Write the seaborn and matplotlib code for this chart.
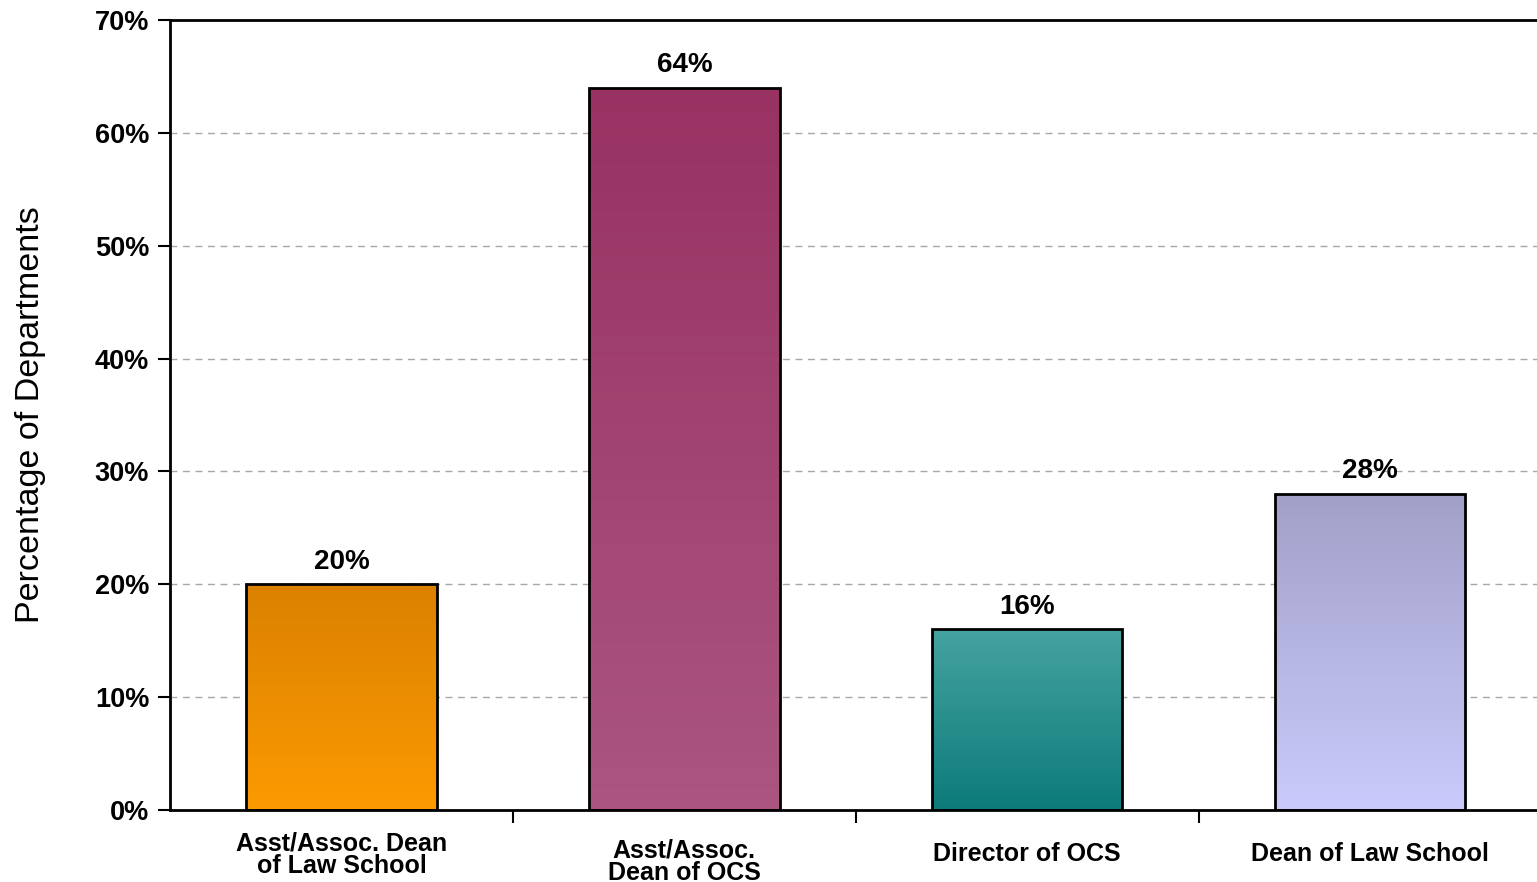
import numpy as np
import pandas as pd
import matplotlib
matplotlib.use("Agg")
import matplotlib.pyplot as plt
import matplotlib.transforms as mtransforms
from matplotlib.colors import LinearSegmentedColormap
import seaborn as sns

categories = ["Asst/Assoc. Dean\nof Law School", "Asst/Assoc.\nDean of OCS",
              "Director of OCS", "Dean of Law School"]
values = [20, 64, 16, 28]
value_labels = ["20%", "64%", "16%", "28%"]
y_ticks = [0, 10, 20, 30, 40, 50, 60, 70]
y_tick_labels = ["0%", "10%", "20%", "30%", "40%", "50%", "60%", "70%"]
y_label = "Percentage of Departments"
# gradient colours (top, bottom)
top_colors = ["#DB8100", "#983262", "#45A3A0", "#A2A0C8"]
bottom_colors = ["#FC9A00", "#AB5580", "#0C7B7A", "#CACBFC"]

sns.set_theme(style="white")
plt.rcParams['font.family'] = ['Liberation Sans', 'DejaVu Sans']
plt.rcParams['text.color'] = 'black'
plt.rcParams['axes.labelcolor'] = 'black'
plt.rcParams['xtick.color'] = 'black'
plt.rcParams['ytick.color'] = 'black'

fig = plt.figure(figsize=(15.37, 8.82), dpi=100)
ax = fig.add_axes([0.1106, 0.0816, 0.8924, 0.8957])

df = pd.DataFrame({"cat": categories, "val": values})
sns.barplot(data=df, x="cat", y="val", ax=ax, width=0.555,
            palette=top_colors, hue="cat", legend=False,
            edgecolor="black", linewidth=2, saturation=1)

ax.set_ylim(0, 70)
ax.set_xlim(-0.5, 3.5)

for i, p in enumerate(ax.patches):
    x0, y0 = p.get_x(), p.get_y()
    w, h = p.get_width(), p.get_height()
    cmap = LinearSegmentedColormap.from_list("g", [bottom_colors[i], top_colors[i]])
    grad = np.linspace(0, 1, 256).reshape(-1, 1)
    im = ax.imshow(grad, cmap=cmap, origin="lower", aspect="auto",
                   extent=[x0, x0 + w, y0, y0 + h], zorder=2)
    im.set_clip_path(p)
    p.set_facecolor("none")
    p.set_zorder(3)
    ax.text(x0 + w / 2, y0 + h + 0.85, value_labels[i], ha="center", va="bottom",
            fontsize=20, fontweight="bold", color="black")

ax.set_xlim(-0.5, 3.5)
ax.set_ylim(0, 70)

ax.set_yticks(y_ticks)
ax.set_yticklabels(y_tick_labels, fontsize=19.5, fontweight="bold", color="black")
ax.tick_params(axis="y", direction="out", length=9, width=1.5, color="black", left=True, pad=6)
ax.set_xticks(range(len(categories)))
ax.set_xticklabels(categories, fontsize=18, fontweight="bold", linespacing=0.9,
                   color="black", va="center")
ax.tick_params(axis="x", which="major", length=0, pad=32)
ax.set_xticks([0.5, 1.5, 2.5], minor=True)
ax.tick_params(axis="x", which="minor", direction="out", length=9, width=1.5, color="black", bottom=True)

# second label sits a little lower in the reference
lbl = ax.get_xticklabels()[1]
lbl.set_transform(lbl.get_transform() + mtransforms.ScaledTranslation(0, -7 / 100, fig.dpi_scale_trans))

for yv in y_ticks[1:-1]:
    ax.axhline(yv, color="#A8A8A8", linestyle=(0, (5, 4)), linewidth=1, zorder=1)

for s in ["left", "bottom", "top"]:
    ax.spines[s].set_visible(True)
    ax.spines[s].set_color("black")
    ax.spines[s].set_linewidth(2)
ax.spines["right"].set_visible(False)

ax.set_xlabel("")
ax.set_ylabel(y_label, fontsize=24.5, color="black")
ax.yaxis.set_label_coords(-0.0905, 0.5)

fig.savefig("out.png", dpi=100)
